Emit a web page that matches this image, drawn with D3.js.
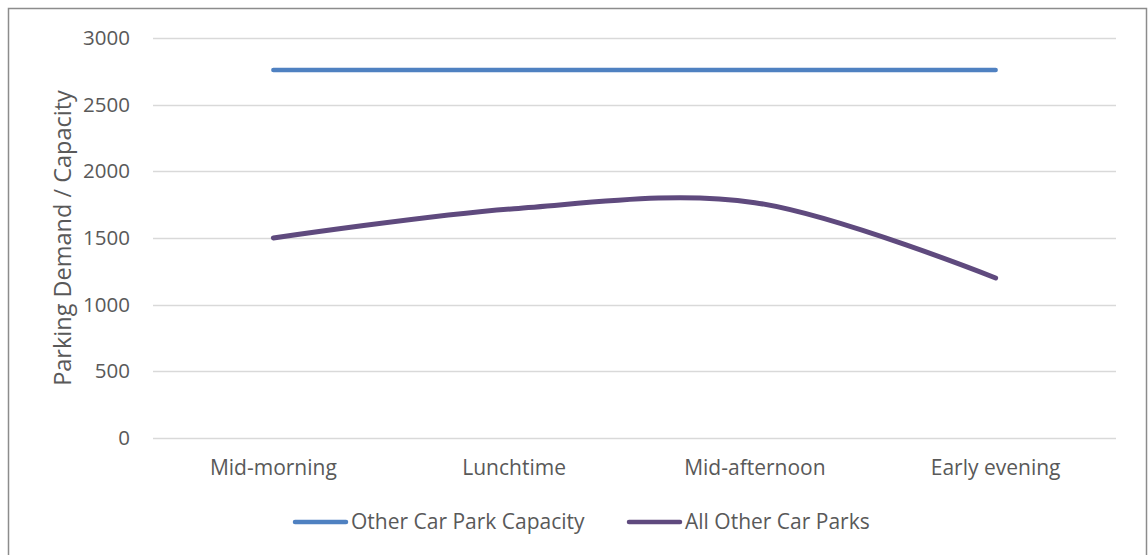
<!DOCTYPE html>
<html>
<head>
<meta charset="utf-8">
<script src="https://cdn.jsdelivr.net/npm/d3@7"></script>
<style>
  body { margin: 0; background: #fff; }
  text { font-family: "Open Sans", "Noto Sans", sans-serif; fill: #595959; }
</style>
</head>
<body>
<svg id="chart" width="1148" height="555"></svg>
<script>
// Time periods along the x axis
const categories = ["Mid-morning", "Lunchtime", "Mid-afternoon", "Early evening"];
// Total capacity of the other car parks
const capacity = [2760, 2760, 2760, 2760];
// Observed parking demand across all other car parks
const demand = [1500, 1720, 1765, 1200];
// Y axis ticks
const yTicks = [0, 500, 1000, 1500, 2000, 2500, 3000];
const seriesNames = ["Other Car Park Capacity", "All Other Car Parks"];
const seriesColors = ["#4F81C1", "#5F4A7E"];

const svg = d3.select("#chart");

// chart frame
svg.append("rect")
  .attr("x", 8.5).attr("y", 8.5)
  .attr("width", 1138).attr("height", 560)
  .attr("fill", "#fff").attr("stroke", "#8c8c8c").attr("stroke-width", 1.5);

const plot = { left: 153, right: 1116, top: 38, bottom: 438 };

const x = d3.scaleBand().domain(categories).range([plot.left, plot.right]);
const y = d3.scaleLinear().domain([0, 3000]).range([plot.bottom, plot.top]);

// gridlines
svg.append("g")
  .selectAll("line").data(yTicks).join("line")
  .attr("x1", plot.left).attr("x2", plot.right)
  .attr("y1", d => Math.round(y(d)) + 0.5).attr("y2", d => Math.round(y(d)) + 0.5)
  .attr("stroke", "#d9d9d9").attr("stroke-width", 1.5);

// y axis labels
const yAxis = d3.axisLeft(y).tickValues(yTicks).tickFormat(d3.format("d"))
  .tickSize(0).tickPadding(0);
const gy = svg.append("g").attr("transform", `translate(130,0)`).call(yAxis);
gy.select(".domain").remove();
gy.selectAll("text").attr("font-size", 20.5).attr("fill", "#595959")
  .style("font-family", "'Open Sans', sans-serif");

// x axis labels
const xAxis = d3.axisBottom(x).tickSize(0).tickPadding(0);
const gx = svg.append("g").attr("transform", `translate(0,${plot.bottom + 22})`).call(xAxis);
gx.select(".domain").remove();
gx.selectAll("text").attr("font-size", 21).attr("fill", "#595959")
  .style("font-family", "'Open Sans', sans-serif");

// y axis title
svg.append("text")
  .attr("transform", `translate(71,${(plot.top + plot.bottom) / 2}) rotate(-90)`)
  .attr("text-anchor", "middle")
  .attr("font-size", 23.5)
  .text("Parking Demand / Capacity");

const cx = d => x(d) + x.bandwidth() / 2;

// capacity line
const capLine = d3.line().x((d, i) => cx(categories[i])).y(d => y(d));
svg.append("path").datum(capacity)
  .attr("d", capLine)
  .attr("fill", "none").attr("stroke", seriesColors[0])
  .attr("stroke-width", 4.5).attr("stroke-linecap", "round");

// demand line (smoothed)
const demLine = d3.line().x((d, i) => cx(categories[i])).y(d => y(d))
  .curve(d3.curveCardinal.tension(0));
svg.append("path").datum(demand)
  .attr("d", demLine)
  .attr("fill", "none").attr("stroke", seriesColors[1])
  .attr("stroke-width", 5).attr("stroke-linecap", "round");

// legend
const legend = [
  { x: 295, name: seriesNames[0], color: seriesColors[0] },
  { x: 629, name: seriesNames[1], color: seriesColors[1] }
];
const lg = svg.append("g");
legend.forEach(l => {
  lg.append("line")
    .attr("x1", l.x).attr("x2", l.x + 51)
    .attr("y1", 522).attr("y2", 522)
    .attr("stroke", l.color).attr("stroke-width", 4.5).attr("stroke-linecap", "round");
  lg.append("text")
    .attr("x", l.x + 56).attr("y", 522).attr("dy", "0.35em")
    .attr("font-size", 21)
    .text(l.name);
});
</script>
</body>
</html>
